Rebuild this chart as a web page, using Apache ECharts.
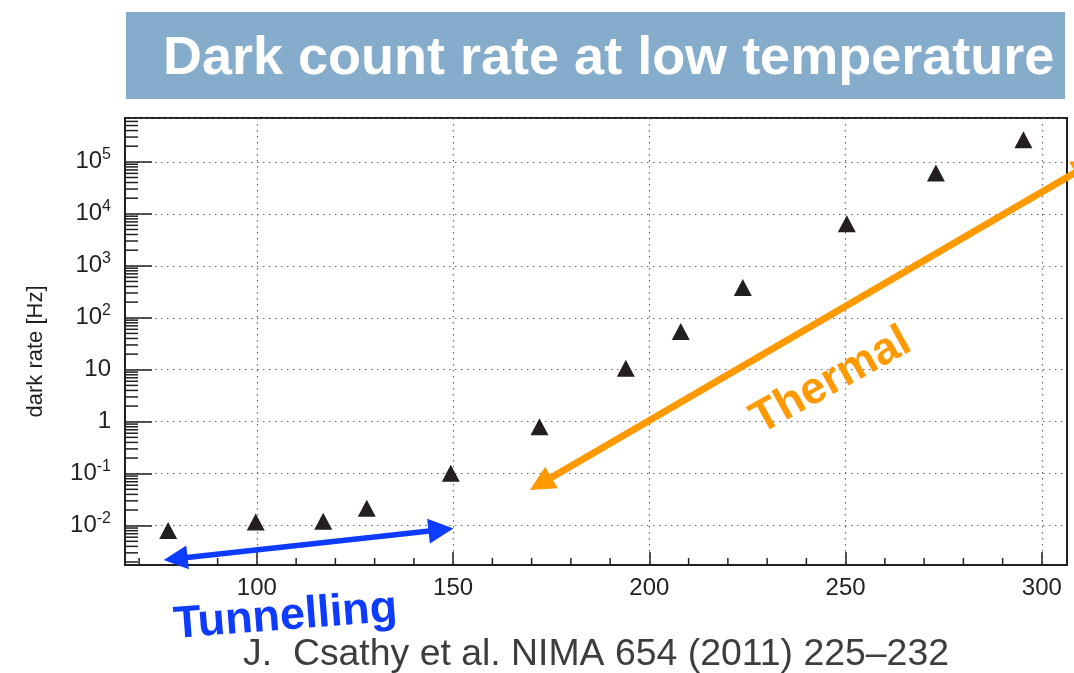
<!DOCTYPE html>
<html>
<head>
<meta charset="utf-8">
<script src="https://cdn.jsdelivr.net/npm/echarts@6/dist/echarts.min.js"></script>
<style>
html,body{margin:0;padding:0;background:#ffffff;}
#chart{width:1074px;height:673px;}
</style>
</head>
<body>
<div id="chart"></div>
<script>
// ---- data ----
const temperatures = [77.4, 99.7, 116.9, 128.0, 149.4, 172.0, 194.0, 208.0, 223.8, 250.3, 273.0, 295.3];
const darkRates    = [0.0081, 0.0118, 0.0122, 0.0216, 0.102, 0.80, 10.7, 54.7, 381, 6430, 61200, 265000];

const xTickValues  = [100, 150, 200, 250, 300];
const xMinorTicks  = [70, 80, 90, 110, 120, 130, 140, 160, 170, 180, 190, 210, 220, 230, 240, 260, 270, 280, 290];
const yDecades     = [-3, -2, -1, 0, 1, 2, 3, 4, 5];
const yMinorSteps  = [2, 3, 4, 5, 6, 7, 8, 9];
const xRange       = [66.4, 306.4];
const yRange       = [0.00175, 698000];

const tunnellingArrow = [[79.3, 0.00231], [146.9, 0.00834]];
const thermalArrow    = [[172.3, 0.064], [311.3, 82600]];

const titleText    = 'Dark count rate at low temperature';
const yAxisName    = 'dark rate [Hz]';
const tunnelText   = 'Tunnelling';
const thermalText  = 'Thermal';
const citationText = 'J.  Csathy et al. NIMA 654 (2011) 225–232';

// ---- build ----
const points = temperatures.map((t, i) => [t, darkRates[i]]);
const yMinorTicks = [];
yDecades.forEach(d => yMinorSteps.forEach(s => {
  const v = s * Math.pow(10, d);
  if (v > yRange[0] && v < yRange[1]) yMinorTicks.push(v);
}));

const FONT = '"Liberation Sans", Arial, Helvetica, sans-serif';
const INK = '#231f20';

function yLabel(v) {
  const e = Math.round(Math.log10(v));
  if (e === 0) return '1';
  if (e === 1) return '10';
  return '10{sup|' + e + '}';
}

const chart = echarts.init(document.getElementById('chart'), null, {renderer: 'canvas'});
chart.setOption({
  animation: false,
  backgroundColor: '#ffffff',
  grid: {
    left: 125, right: 7, top: 118, bottom: 108,
    show: true, borderColor: INK, borderWidth: 2, backgroundColor: 'transparent'
  },
  xAxis: {
    type: 'value',
    min: xRange[0], max: xRange[1],
    axisLine: {onZero: false, lineStyle: {color: INK, width: 2}},
    axisTick: {inside: true, length: 13, lineStyle: {color: INK, width: 1.5}, customValues: xTickValues},
    axisLabel: {customValues: xTickValues, fontSize: 24, color: INK, fontFamily: FONT, margin: 11},
    splitLine: {show: true, lineStyle: {color: '#666', width: 1.2, type: [1.5, 4.5]}}
  },
  yAxis: {
    type: 'log', logBase: 10,
    min: yRange[0], max: yRange[1],
    name: yAxisName, nameLocation: 'middle', nameGap: 78,
    nameTextStyle: {fontSize: 22, color: INK, fontFamily: FONT, padding: [0, 20, 0, 0]},
    axisLine: {lineStyle: {color: INK, width: 2}},
    axisTick: {inside: true, length: 27, lineStyle: {color: INK, width: 1.5}},
    axisLabel: {
      showMinLabel: false, showMaxLabel: false,
      fontSize: 24, lineHeight: 30, color: INK, fontFamily: FONT, margin: 14,
      formatter: yLabel,
      rich: {sup: {fontSize: 16, lineHeight: 16, verticalAlign: 'top', color: INK, fontFamily: FONT}}
    },
    splitLine: {show: true, lineStyle: {color: '#666', width: 1.2, type: [1.5, 4.5]}}
  },
  graphic: [
    {type: 'rect', shape: {x: 126, y: 12, width: 939, height: 87}, style: {fill: '#85adcb'}, z: -10, silent: true},
    {type: 'text', x: 163, y: 59, silent: true,
     style: {text: titleText, fill: '#ffffff', font: 'bold 54px ' + FONT, align: 'left', verticalAlign: 'middle'}},
    {type: 'text', x: 285.5, y: 617, rotation: 4.4 * Math.PI / 180, silent: true, z: 100,
     style: {text: tunnelText, fill: '#0d3bff', font: 'bold 45px ' + FONT, align: 'center', verticalAlign: 'middle'}},
    {type: 'text', x: 831, y: 381, rotation: 29 * Math.PI / 180, silent: true, z: 100,
     style: {text: thermalText, fill: '#ff9900', font: 'bold 45px ' + FONT, align: 'center', verticalAlign: 'middle'}},
    {type: 'text', x: 596, y: 655, silent: true, z: 100,
     style: {text: citationText, fill: '#3d3d3d', font: '37.4px ' + FONT, align: 'center', verticalAlign: 'middle'}}
  ],
  series: [
    {
      name: 'dark rate', type: 'scatter', data: points,
      symbol: 'triangle', symbolSize: [18, 17],
      itemStyle: {color: INK, opacity: 1}, clip: false, z: 5
    },
    {
      name: 'x minor ticks', type: 'custom', silent: true, z: 3,
      data: xMinorTicks.map(v => [v, yRange[0]]),
      renderItem: function (params, api) {
        const p = api.coord([api.value(0), api.value(1)]);
        return {type: 'line', shape: {x1: p[0], y1: p[1], x2: p[0], y2: p[1] - 7},
                style: {stroke: INK, lineWidth: 1.5}};
      }
    },
    {
      name: 'y minor ticks', type: 'custom', silent: true, z: 3,
      data: yMinorTicks.map(v => [xRange[0], v]),
      renderItem: function (params, api) {
        const p = api.coord([api.value(0), api.value(1)]);
        return {type: 'line', shape: {x1: p[0], y1: p[1], x2: p[0] + 13, y2: p[1]},
                style: {stroke: INK, lineWidth: 1.5}};
      }
    },
    {
      name: 'arrows', type: 'lines', coordinateSystem: 'cartesian2d',
      silent: true, clip: false, z: 6, polyline: false,
      symbol: ['triangle', 'triangle'],
      data: [
        {coords: tunnellingArrow, symbolSize: [24, 25],
         lineStyle: {color: '#0d3bff', width: 5.5, opacity: 1, curveness: 0}},
        {coords: thermalArrow, symbolSize: [25, 25],
         lineStyle: {color: '#ff9900', width: 7, opacity: 1, curveness: 0}}
      ],
      symbolSize: [24, 25],
      lineStyle: {opacity: 1, curveness: 0},
      effect: {show: false}
    }
  ]
});
</script>
</body>
</html>
